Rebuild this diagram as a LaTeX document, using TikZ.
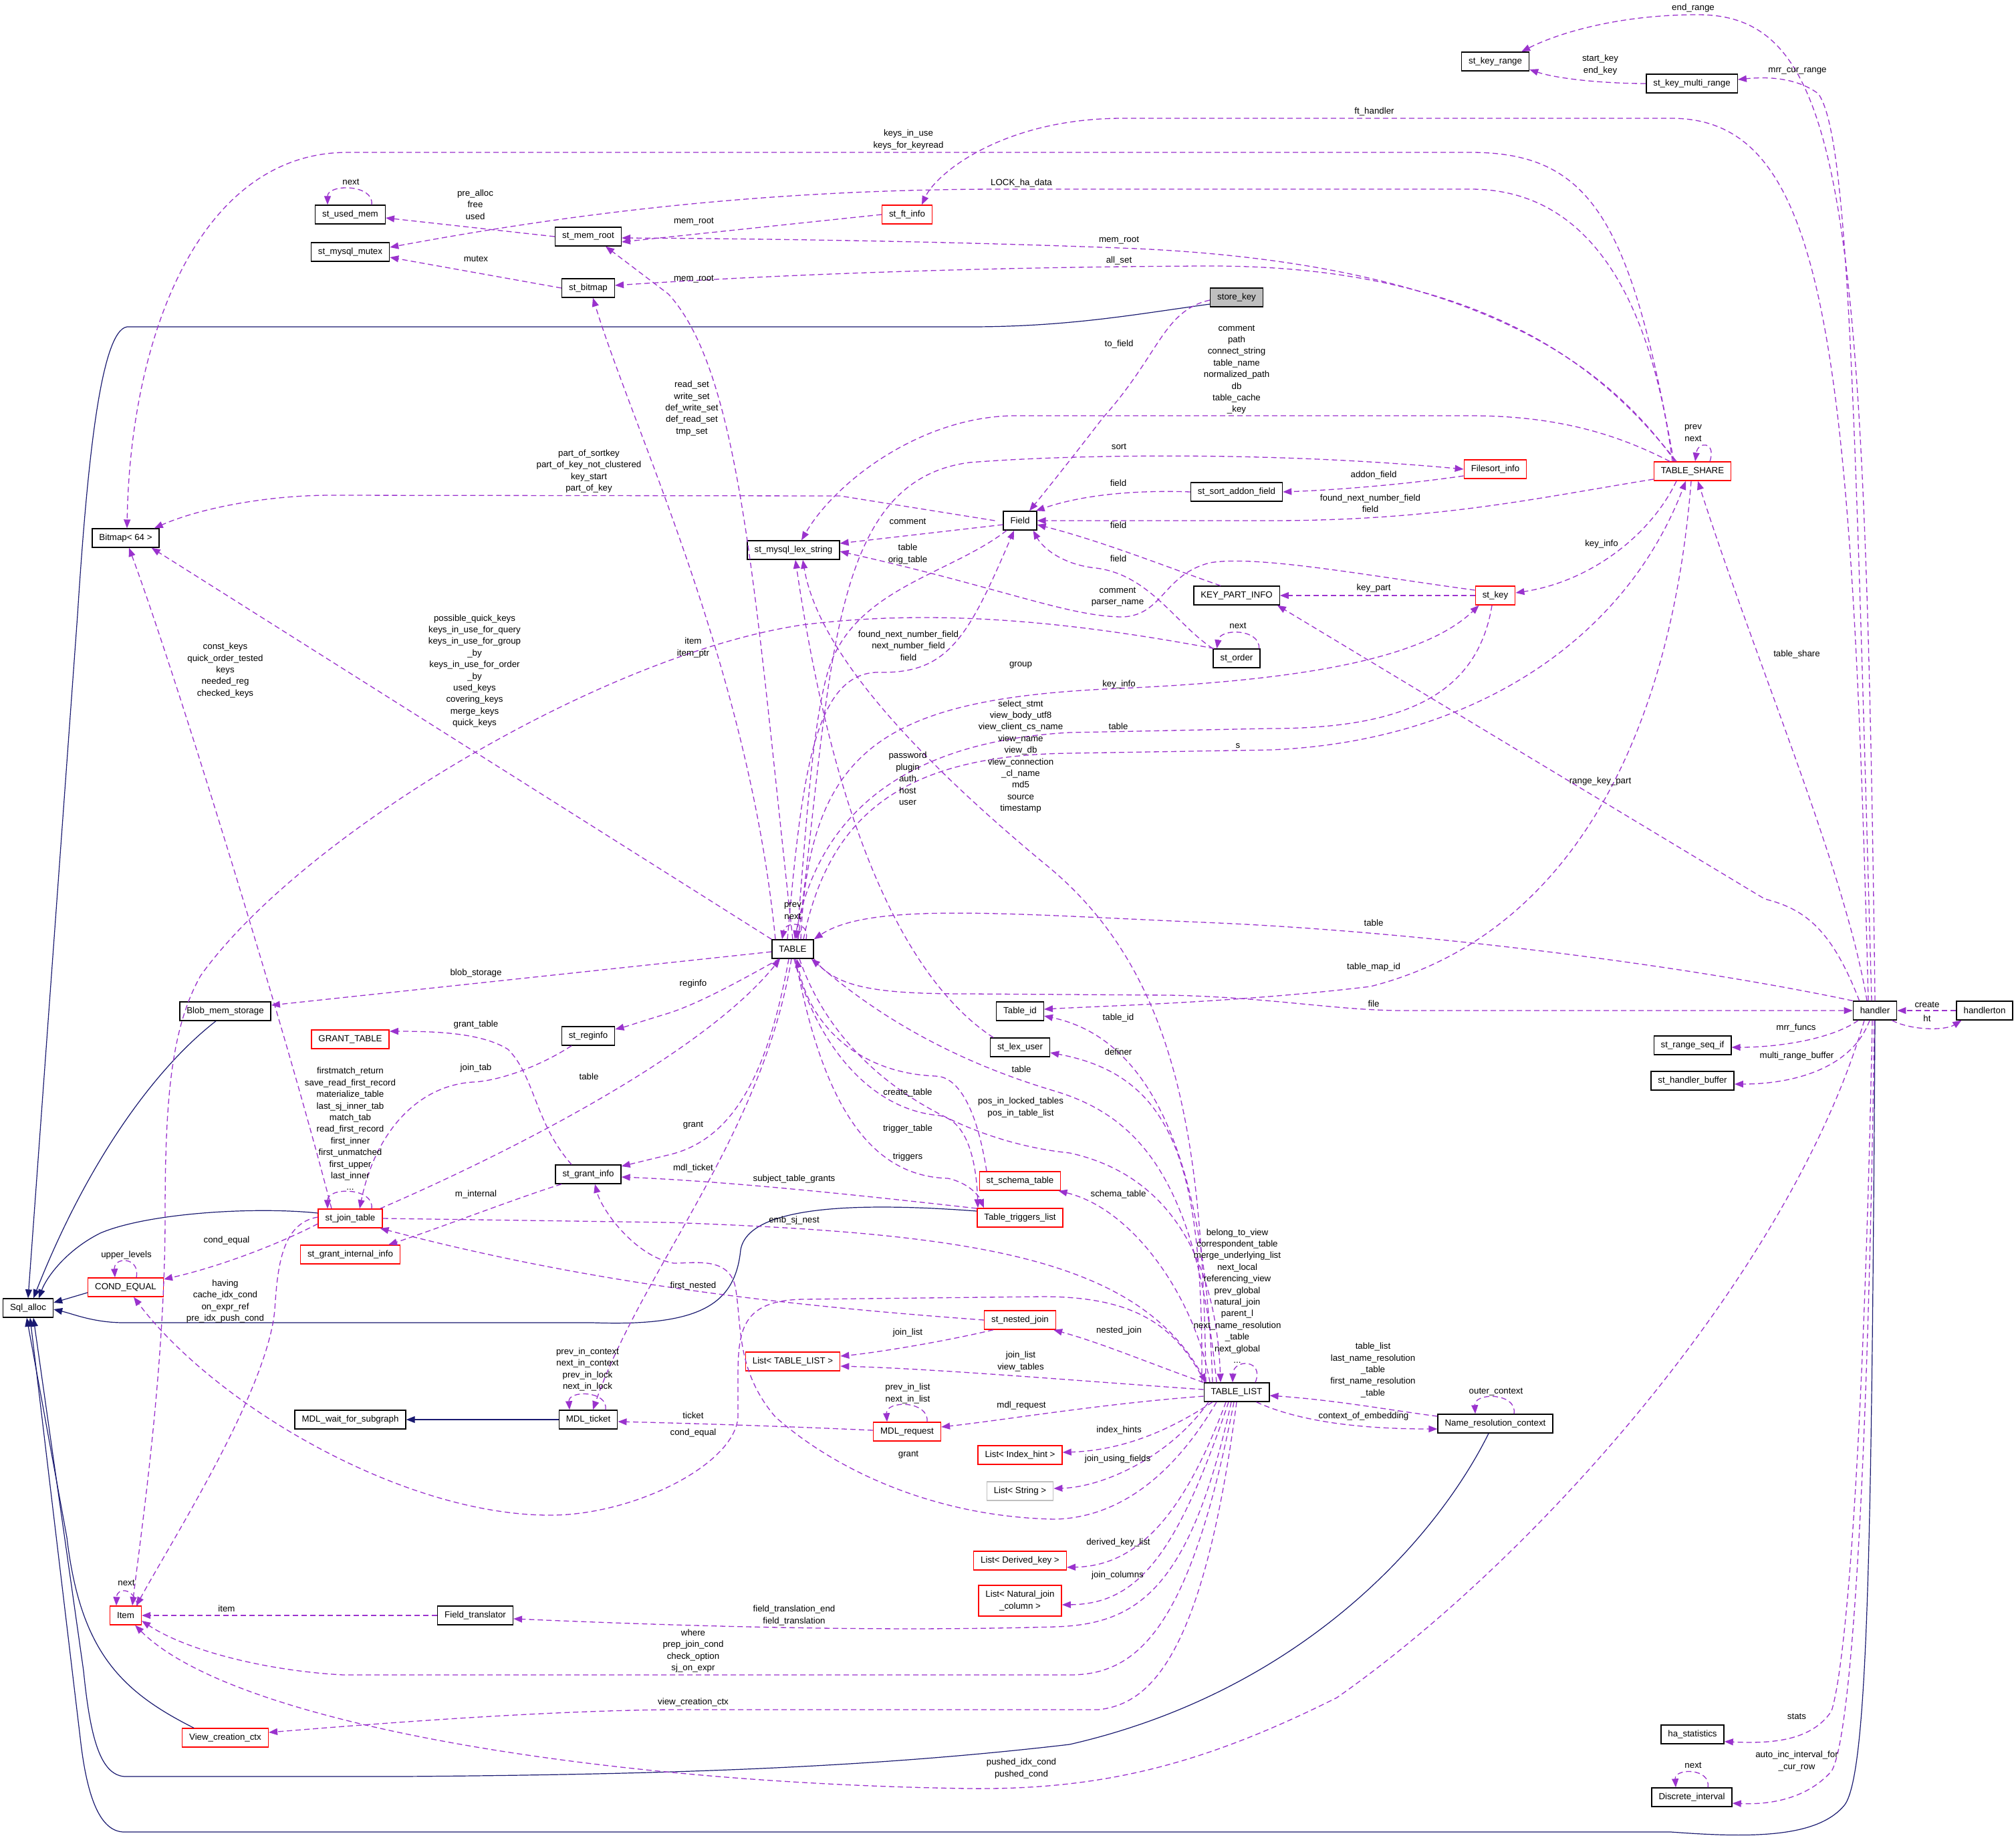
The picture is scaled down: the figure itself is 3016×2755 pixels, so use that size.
\documentclass[tikz,border=0pt]{standalone}
\usepackage{fontspec}
\setmainfont{Liberation Sans}
\usetikzlibrary{arrows.meta}
\definecolor{depc}{RGB}{154,50,205}
\definecolor{inhc}{RGB}{25,25,112}
\definecolor{grayfill}{RGB}{191,191,191}
\newcommand{\dfont}{\fontsize{13.3}{17.4}\selectfont}
\begin{document}
\begin{tikzpicture}[x=1pt,y=-1pt,
  cls/.style={draw=black, line width=1.4pt, fill=white, inner xsep=10.5pt, inner ysep=0pt, minimum height=28pt, font=\dfont, align=center},
  rcls/.style={cls, draw=red},
  dp/.style={draw=depc, line width=1.3pt, dash pattern=on 8pt off 5pt, -{Triangle[length=13pt,width=10pt]}},
  ih/.style={draw=inhc, line width=1.2pt, -{Triangle[length=13pt,width=10pt]}},
  lb/.style={font=\dfont, align=center, inner sep=0pt},
]
\fill[white] (0,0) rectangle (3016,2755);
\useasboundingbox (0,0) rectangle (3016,2755);

% ---------------- classes
\node[cls] (usedmem) at (524,321) {st\_used\_mem};
\node[cls] (mutex) at (524,377) {st\_mysql\_mutex};
\node[cls] (memroot) at (880,354) {st\_mem\_root};
\node[cls] (bitmap) at (880,431) {st\_bitmap};
\node[cls] (bm64) at (188,805) {Bitmap< 64 >};
\node[rcls] (ftinfo) at (1357,321) {st\_ft\_info};
\node[cls, fill=grayfill] (storekey) at (1850,445) {store\_key};
\node[cls] (field) at (1526,779) {Field};
\node[cls] (lexstr) at (1187,823) {st\_mysql\_lex\_string};
\node[cls] (sortaddon) at (1850,736) {st\_sort\_addon\_field};
\node[cls] (keypart) at (1850,891) {KEY\_PART\_INFO};
\node[cls] (keyrange) at (2237,92) {st\_key\_range};
\node[cls] (multirange) at (2531,125) {st\_key\_multi\_range};
\node[rcls] (filesort) at (2237,702) {Filesort\_info};
\node[rcls] (share) at (2532,705) {TABLE\_SHARE};
\node[rcls] (stkey) at (2237,891) {st\_key};
\node[cls] (order) at (1850,985) {st\_order};
\node[cls] (table) at (1186,1420) {TABLE};
\node[cls] (tableid) at (1526,1513) {Table\_id};
\node[cls] (lexuser) at (1526,1567) {st\_lex\_user};
\node[rcls] (schema) at (1526,1767) {st\_schema\_table};
\node[rcls] (triggers) at (1526,1822) {Table\_triggers\_list};
\node[cls] (handler) at (2805,1512) {handler};
\node[cls] (handlerton) at (2969,1512) {handlerton};
\node[cls] (rangeseq) at (2532,1564) {st\_range\_seq\_if};
\node[cls] (hbuffer) at (2532,1617) {st\_handler\_buffer};
\node[cls] (blob) at (337,1513) {Blob\_mem\_storage};
\node[rcls] (granttable) at (524,1555) {GRANT\_TABLE};
\node[cls] (reginfo) at (880,1550) {st\_reginfo};
\node[cls] (grantinfo) at (880,1757) {st\_grant\_info};
\node[rcls] (jointab) at (524,1823) {st\_join\_table};
\node[rcls] (grantint) at (524,1877) {st\_grant\_internal\_info};
\node[rcls] (condeq) at (188,1926) {COND\_EQUAL};
\node[cls] (sqlalloc) at (42,1957) {Sql\_alloc};
\node[cls] (mdlwait) at (524,2124) {MDL\_wait\_for\_subgraph};
\node[cls] (mdlticket) at (880,2124) {MDL\_ticket};
\node[rcls] (item) at (188,2417) {Item};
\node[cls] (fieldtr) at (711,2417) {Field\_translator};
\node[rcls] (viewctx) at (337,2600) {View\_creation\_ctx};
\node[rcls] (nested) at (1526,1975) {st\_nested\_join};
\node[rcls] (listtl) at (1186,2037) {List< TABLE\_LIST >};
\node[rcls] (mdlreq) at (1357,2142) {MDL\_request};
\node[cls] (tablelist) at (1850,2083) {TABLE\_LIST};
\node[rcls] (listih) at (1526,2177) {List< Index\_hint >};
\node[cls, draw=grayfill] (liststr) at (1526,2231) {List< String >};
\node[rcls] (listdk) at (1526,2335) {List< Derived\_key >};
\node[rcls, minimum height=46pt] (listnj) at (1526,2395) {List< Natural\_join\\\_column >};
\node[cls] (nrc) at (2237,2130) {Name\_resolution\_context};
\node[cls] (hastats) at (2532,2595) {ha\_statistics};
\node[cls] (discrete) at (2531,2689) {Discrete\_interval};

% ---------------- inheritance (navy)
\draw[ih] ([yshift=-10pt]storekey.west) .. controls (1700,470) and (1600,489) .. (1450,489) -- (190,489) .. controls (150,495) and (130,700) .. (116,920) -- (sqlalloc.north);
\draw[ih] ([xshift=-14pt]blob.south) .. controls (230,1600) and (130,1740) .. ([xshift=8pt]sqlalloc.north);
\draw[ih] ([yshift=8pt]jointab.west) .. controls (380,1805) and (220,1815) .. (150,1845) .. controls (100,1870) and (70,1910) .. ([xshift=16pt]sqlalloc.north);
\draw[ih] ([yshift=-8pt]condeq.west) -- ([yshift=8pt]sqlalloc.east);
\draw[ih] ([yshift=10pt]triggers.west) .. controls (1300,1800) and (1120,1800) .. (1108,1870) .. controls (1100,1950) and (1050,1985) .. (887,1979) -- (186,1979) .. controls (140,1979) and (110,1966) .. ([yshift=-2pt]sqlalloc.east);
\draw[ih] ([xshift=-47pt]viewctx.north) .. controls (180,2530) and (120,2470) .. (100,2300) -- ([xshift=-2pt]sqlalloc.south);
\draw[ih] ([xshift=-10pt]nrc.south) .. controls (2150,2300) and (1950,2530) .. (1600,2610) .. controls (1300,2645) and (1000,2655) .. (600,2658) -- (186,2658) .. controls (150,2655) and (135,2600) .. (125,2500) -- ([xshift=8pt]sqlalloc.south);
\draw[ih] (handler.south) .. controls (2800,2300) and (2795,2650) .. (2760,2700) .. controls (2720,2750) and (2620,2750) .. (2500,2741) -- (186,2741) .. controls (150,2741) and (130,2690) .. (120,2600) -- ([xshift=3pt]sqlalloc.south);
\draw[ih] (mdlticket.west) -- (mdlwait.east);

% ---------------- dependencies (purple dashed)
\draw[dp] ([xshift=32pt]usedmem.north) .. controls (560,275) and (490,275) .. ([xshift=-34pt]usedmem.north);
\draw[dp] (memroot.west) -- ([yshift=-5pt]usedmem.east);
\draw[dp] ([xshift=-30pt]share.north) .. controls (2470,450) and (2380,283) .. (2200,283) -- (1500,283) .. controls (1100,283) and (800,330) .. ([yshift=7pt]mutex.east);
\draw[dp] ([xshift=-28pt]share.north) .. controls (2440,330) and (2380,228) .. (2200,228) -- (520,228) .. controls (300,228) and (195,500) .. ([xshift=2pt]bm64.north);
\draw[dp] ([xshift=-26pt]share.north) .. controls (2400,540) and (2200,395) .. (1700,372) .. controls (1400,360) and (1100,357) .. ([yshift=-2pt]memroot.east);
\draw[dp] ([xshift=-24pt]share.north) .. controls (2420,580) and (2250,395) .. (1800,398) .. controls (1400,400) and (1100,415) .. ([yshift=4pt]bitmap.east);
\draw[dp] ([xshift=-34pt]share.north) .. controls (2420,650) and (2330,622) .. (2200,622) -- (1520,622) .. controls (1380,622) and (1250,720) .. ([xshift=12pt]lexstr.north);
\draw[dp] ([xshift=26pt]share.north) .. controls (2568,660) and (2540,660) .. ([xshift=4pt]share.north);
\draw[dp] (bitmap.west) -- ([yshift=-8pt]mutex.east);
\draw[dp] (ftinfo.west) -- ([yshift=-8pt]memroot.east);
\draw[dp] (table.north) .. controls (1130,900) and (1110,560) .. (1000,440) -- ([xshift=26pt]memroot.south);
\draw[dp] ([xshift=-26pt]table.north) .. controls (1120,1000) and (950,650) .. ([xshift=7pt]bitmap.south);
\draw[dp] ([xshift=-12pt]field.west) -- (1257,742) -- (495,741) .. controls (400,741) and (300,760) .. ([xshift=-8pt]bm64.north east);
\draw[dp] (table.north west) -- ([xshift=-12pt]bm64.south east);
\draw[dp] ([xshift=-28pt]jointab.north) .. controls (430,1550) and (260,1000) .. ([xshift=5pt]bm64.south);
\draw[dp] ([xshift=-10pt]handler.north) .. controls (2770,500) and (2730,177) .. (2500,177) -- (1680,177) .. controls (1500,177) and (1400,260) .. ([xshift=22pt]ftinfo.north);
\draw[dp] (handler.north) .. controls (2790,300) and (2760,22) .. (2540,22) .. controls (2420,22) and (2330,50) .. ([xshift=-12pt]keyrange.north east);
\draw[dp] ([xshift=-5pt]handler.north) .. controls (2775,600) and (2765,200) .. (2720,140) .. controls (2690,118) and (2650,114) .. ([yshift=6pt]multirange.east);
\draw[dp] (multirange.west) .. controls (2400,125) and (2330,118) .. ([yshift=-12pt]keyrange.east);
\draw[dp] ([yshift=-4pt]storekey.west) .. controls (1740,465) and (1735,530) .. (1650,625) .. controls (1600,690) and (1560,740) .. ([xshift=14pt]field.north);
\draw[dp] ([xshift=8pt]table.north) .. controls (1245,1000) and (1240,720) .. (1450,692) .. controls (1600,680) and (1900,675) .. (filesort.west);
\draw[dp] ([yshift=-10pt]filesort.west) .. controls (2100,725) and (2000,733) .. (sortaddon.east);
\draw[dp] (sortaddon.west) .. controls (1700,733) and (1620,740) .. ([xshift=-2pt]field.north east);
\draw[dp] ([yshift=-12pt]share.west) .. controls (2300,745) and (2150,779) .. (1900,779) -- (field.east);
\draw[dp] ([yshift=-6pt]field.west) -- ([yshift=10pt]lexstr.east);
\draw[dp] ([yshift=8pt]stkey.west) .. controls (2050,862) and (1880,830) .. (1810,842) .. controls (1740,860) and (1740,920) .. (1680,923) .. controls (1600,923) and (1500,880) .. ([yshift=-2pt]lexstr.east);
\draw[dp] ([xshift=-20pt]field.south) .. controls (1420,860) and (1280,880) .. (1240,1000) .. controls (1215,1080) and (1205,1250) .. ([xshift=6pt]table.north);
\draw[dp] ([xshift=-24pt]keypart.north) .. controls (1750,850) and (1650,810) .. ([yshift=-6pt]field.east);
\draw[dp] (order.north west) .. controls (1760,935) and (1720,860) .. (1640,850) .. controls (1590,845) and (1560,820) .. ([xshift=-6pt]field.south east);
\draw[dp] (stkey.west) -- (keypart.east);
\draw[dp] ([xshift=10pt]handler.north west) .. controls (2740,1390) and (2700,1360) .. (2640,1345) -- ([xshift=-4pt]keypart.south east);
\draw[dp] ([xshift=-2pt]order.north east) .. controls (1885,940) and (1825,940) .. ([xshift=6pt]order.north west);
\draw[dp] ([xshift=-8pt]table.north) .. controls (1200,1150) and (1220,1000) .. (1321,1006) .. controls (1420,1006) and (1450,950) .. ([xshift=-9pt]field.south);
\draw[dp] ([xshift=2pt]order.north west) .. controls (1600,930) and (1400,910) .. (1200,935) .. controls (900,980) and (450,1250) .. (300,1460) .. controls (255,1540) and (247,1650) .. (247,1820) .. controls (247,2050) and (210,2300) .. ([xshift=10pt]item.north);
\draw[dp] ([xshift=12pt]table.north) .. controls (1210,1120) and (1320,1045) .. (1674,1030) .. controls (1950,1018) and (2130,985) .. ([xshift=6pt]stkey.south west);
\draw[dp] ([xshift=-24pt]share.south) .. controls (2470,800) and (2380,870) .. ([yshift=4pt]stkey.east);
\draw[dp] ([xshift=-5pt]stkey.south) .. controls (2210,1040) and (2100,1090) .. (1900,1090) -- (1600,1096) .. controls (1350,1110) and (1225,1220) .. ([xshift=3pt]table.north);
\draw[dp] ([xshift=16pt]table.north) .. controls (1240,1220) and (1350,1130) .. (1600,1127) -- (1900,1122) .. controls (2200,1110) and (2430,960) .. ([xshift=-10pt]share.south);
\draw[dp] ([xshift=-12pt]handler.north) .. controls (2760,1300) and (2630,1000) .. ([xshift=8pt]share.south);
\draw[dp] (handler.north west) .. controls (2500,1440) and (2100,1392) .. (1800,1380) .. controls (1500,1367) and (1300,1350) .. (table.north east);
\draw[dp] (table.south east) .. controls (1250,1480) and (1320,1487) .. (1450,1487) -- (1750,1489) .. controls (1900,1492) and (2000,1512) .. (2100,1512) -- (handler.west);
\draw[dp] ([xshift=-2pt]share.south) .. controls (2500,1100) and (2350,1400) .. (2050,1476) .. controls (1850,1500) and (1650,1505) .. ([yshift=3pt]tableid.east);
\draw[dp] ([xshift=20pt]table.north) .. controls (1212,1378) and (1175,1378) .. ([xshift=-16pt]table.north);
\draw[dp] (handlerton.west) -- (handler.east);
\draw[dp] ([xshift=-8pt]handler.south east) .. controls (2860,1542) and (2910,1542) .. ([xshift=8pt]handlerton.south west);
\draw[dp] ([xshift=-25pt]handler.south) .. controls (2740,1555) and (2660,1567) .. ([yshift=-3pt]rangeseq.east);
\draw[dp] ([xshift=-8pt]handler.south) .. controls (2770,1600) and (2680,1622) .. ([yshift=-5pt]hbuffer.east);
\draw[dp] ([xshift=-16pt]handler.south) .. controls (2680,1900) and (2300,2330) .. (2000,2540) .. controls (1800,2640) and (1650,2678) .. (1450,2676) .. controls (900,2668) and (350,2580) .. ([xshift=-10pt]item.south east);
\draw[dp] ([xshift=-4pt]handler.south) .. controls (2790,2100) and (2765,2480) .. (2740,2560) .. controls (2710,2605) and (2650,2609) .. ([yshift=4pt]hastats.south east);
\draw[dp] ([xshift=-1pt]handler.south) .. controls (2795,2200) and (2770,2600) .. (2740,2650) .. controls (2700,2695) and (2640,2700) .. ([yshift=-9pt]discrete.east);
\draw[dp] ([xshift=24pt]discrete.north) .. controls (2560,2645) and (2505,2645) .. ([xshift=-24pt]discrete.north);
\draw[dp] ([yshift=-4pt]table.west) -- ([yshift=9pt]blob.east);
\draw[dp] ([xshift=-20pt]table.south) .. controls (1120,1460) and (1050,1500) .. (1000,1516) .. controls (960,1528) and (940,1535) .. ([yshift=10pt]reginfo.east);
\draw[dp] ([xshift=-25pt]reginfo.south) .. controls (800,1600) and (740,1618) .. (707,1619) .. controls (620,1625) and (560,1700) .. ([xshift=14pt]jointab.north);
\draw[dp] ([xshift=-25pt]grantinfo.north) .. controls (800,1680) and (800,1610) .. (760,1570) .. controls (720,1545) and (650,1543) .. ([yshift=12pt]granttable.east);
\draw[dp] ([xshift=-4pt]jointab.north east) .. controls (750,1730) and (1050,1580) .. ([xshift=-19pt]table.south);
\draw[dp] ([xshift=32pt]jointab.north) .. controls (560,1776) and (490,1776) .. ([xshift=-34pt]jointab.north);
\draw[dp] ([xshift=-6pt]table.south) .. controls (1150,1600) and (1100,1705) .. (1000,1728) -- ([yshift=12pt]grantinfo.east);
\draw[dp] ([xshift=-40pt]grantinfo.south) .. controls (780,1790) and (650,1840) .. ([xshift=-18pt]grantint.north east);
\draw[dp] ([yshift=-8pt]jointab.west) .. controls (420,1860) and (330,1895) .. ([yshift=12pt]condeq.east);
\draw[dp] ([xshift=16pt]condeq.north) .. controls (210,1880) and (170,1880) .. ([xshift=-16pt]condeq.north);
\draw[dp] ([yshift=2pt]jointab.west) .. controls (420,1830) and (415,1900) .. (411,1960) .. controls (400,2080) and (260,2300) .. ([xshift=16pt]item.north);
\draw[dp] ([xshift=-2pt]table.south) .. controls (1140,1700) and (960,1900) .. ([xshift=7pt]mdlticket.north);
\draw[dp] ([xshift=26pt]mdlticket.north) .. controls (910,2080) and (850,2080) .. ([xshift=-28pt]mdlticket.north);
\draw[dp] ([yshift=2pt]mdlreq.west) .. controls (1200,2135) and (1050,2130) .. ([yshift=-3pt]mdlticket.east);
\draw[dp] ([xshift=30pt]mdlreq.north) .. controls (1390,2095) and (1325,2095) .. ([xshift=-30pt]mdlreq.north);
\draw[dp] ([yshift=-6pt]tablelist.west) .. controls (1650,2100) and (1500,2125) .. ([yshift=7pt]mdlreq.east);
\draw[dp] ([yshift=14pt]triggers.west) .. controls (1300,1790) and (1100,1768) .. ([yshift=-4pt]grantinfo.east);
\draw[dp] ([xshift=-50pt]schema.north) .. controls (1460,1650) and (1430,1610) .. (1399,1610) .. controls (1280,1605) and (1210,1530) .. ([xshift=6pt]table.south);
\draw[dp] ([xshift=2pt]table.south) .. controls (1220,1560) and (1300,1660) .. (1405,1669) .. controls (1440,1675) and (1460,1720) .. ([xshift=-63pt]triggers.north);
\draw[dp] ([xshift=4pt]table.south) .. controls (1230,1650) and (1300,1760) .. (1418,1763) .. controls (1450,1770) and (1465,1790) .. ([xshift=-54pt]triggers.north);
\draw[dp] ([xshift=-40pt]tablelist.north) .. controls (1790,1950) and (1700,1810) .. ([xshift=-4pt]schema.south east);
\draw[dp] ([xshift=-46pt]tablelist.north) .. controls (1800,1700) and (1760,1450) .. (1560,1290) .. controls (1380,1140) and (1225,980) .. ([xshift=14pt]lexstr.south);
\draw[dp] ([xshift=-40pt]lexuser.north) .. controls (1360,1470) and (1250,1250) .. ([xshift=3pt]lexstr.south);
\draw[dp] ([xshift=-52pt]tablelist.north) .. controls (1800,1750) and (1760,1610) .. ([yshift=-8pt]lexuser.east);
\draw[dp] ([xshift=-36pt]tablelist.north) .. controls (1805,1800) and (1750,1560) .. ([yshift=-7pt]tableid.east);
\draw[dp] ([xshift=-30pt]tablelist.north) .. controls (1790,1760) and (1700,1670) .. (1580,1633) .. controls (1400,1580) and (1290,1500) .. ([xshift=-4pt]table.south east);
\draw[dp] ([xshift=10pt]table.south) .. controls (1260,1620) and (1450,1710) .. (1600,1725) .. controls (1760,1760) and (1820,1900) .. ([xshift=-24pt]tablelist.north);
\draw[dp] ([xshift=28pt]tablelist.north) .. controls (1892,2033) and (1845,2033) .. ([xshift=-6pt]tablelist.north);
\draw[dp] (tablelist.north west) .. controls (1720,2040) and (1650,2010) .. ([xshift=-4pt]nested.south east);
\draw[dp] ([xshift=-40pt]nested.south) .. controls (1400,2010) and (1300,2025) .. ([yshift=8pt]listtl.east);
\draw[dp] ([yshift=4pt]tablelist.west) .. controls (1600,2065) and (1400,2048) .. ([yshift=-7pt]listtl.east);
\draw[dp] (nested.west) .. controls (1200,1955) and (900,1925) .. ([xshift=-4pt]jointab.south east);
\draw[dp] (jointab.east) -- (1000,1829) .. controls (1450,1845) and (1700,1880) .. ([xshift=4pt]tablelist.north west);
\draw[dp] ([xshift=2pt]tablelist.north west) .. controls (1760,1985) and (1700,1940) .. (1560,1940) -- (1200,1944) .. controls (1110,1946) and (1104,1990) .. (1104,2060) -- (1104,2120) .. controls (1100,2190) and (950,2267) .. (823,2267) .. controls (600,2267) and (320,2100) .. ([xshift=12pt]condeq.south);
\draw[dp] ([xshift=-30pt]tablelist.south) .. controls (1760,2200) and (1680,2270) .. (1579,2273) .. controls (1400,2270) and (1250,2200) .. (1160,2120) .. controls (1100,2050) and (1110,1980) .. (1100,1925) .. controls (1090,1880) and (1040,1890) .. (1008,1890) .. controls (950,1880) and (900,1810) .. ([xshift=10pt]grantinfo.south);
\draw[dp] ([xshift=-36pt]tablelist.south) .. controls (1750,2140) and (1680,2170) .. ([yshift=4pt]listih.east);
\draw[dp] ([xshift=-42pt]tablelist.south) .. controls (1750,2180) and (1650,2225) .. ([yshift=4pt]liststr.east);
\draw[dp] ([xshift=-16pt]tablelist.south) .. controls (1770,2270) and (1700,2343) .. ([yshift=-10pt]listdk.east);
\draw[dp] ([xshift=-12pt]tablelist.south) .. controls (1760,2330) and (1700,2400) .. ([yshift=-6pt]listnj.east);
\draw[dp] ([xshift=-8pt]tablelist.south) .. controls (1780,2380) and (1700,2430) .. (1579,2434) .. controls (1300,2442) and (1000,2432) .. ([yshift=-5pt]fieldtr.east);
\draw[dp] ([xshift=-4pt]tablelist.south) .. controls (1780,2440) and (1700,2506) .. (1600,2506) -- (514,2506) .. controls (400,2500) and (280,2470) .. ([yshift=-8pt]item.east);
\draw[dp] (tablelist.south) .. controls (1800,2480) and (1720,2550) .. (1643,2558) -- (1000,2558) .. controls (800,2560) and (550,2580) .. ([yshift=8pt]viewctx.east);
\draw[dp] ([xshift=-20pt]tablelist.south east) .. controls (1950,2130) and (2050,2138) .. ([yshift=-8pt]nrc.west);
\draw[dp] ([yshift=11pt]nrc.west) .. controls (2080,2110) and (2000,2095) .. ([yshift=-5pt]tablelist.east);
\draw[dp] ([xshift=28pt]nrc.north) .. controls (2270,2083) and (2205,2083) .. ([xshift=-30pt]nrc.north);
\draw[dp] (fieldtr.west) -- (item.east);
\draw[dp] ([xshift=18pt]item.north) .. controls (200,2375) and (175,2375) .. ([xshift=-14pt]item.north);

% ---------------- labels
\node[lb] (t1) at (525,272) {next};
\node[lb] (t2) at (711,306) {pre\_alloc\\free\\used};
\node[lb] (t3) at (712,387) {mutex};
\node[lb] (t4) at (1038,332) {mem\_root};
\node[lb] (t5) at (1674,360) {mem\_root};
\node[lb] (t6) at (1038,418) {mem\_root};
\node[lb] (t7) at (1674,390) {all\_set};
\node[lb] (t8) at (1035,611) {read\_set\\write\_set\\def\_write\_set\\def\_read\_set\\tmp\_set};
\node[lb] (t9) at (1359,209) {keys\_in\_use\\keys\_for\_keyread};
\node[lb] (t10) at (1528,274) {LOCK\_ha\_data};
\node[lb] (t11) at (881,705) {part\_of\_sortkey\\part\_of\_key\_not\_clustered\\key\_start\\part\_of\_key};
\node[lb] (t12) at (710,1004) {possible\_quick\_keys\\keys\_in\_use\_for\_query\\keys\_in\_use\_for\_group\\\_by\\keys\_in\_use\_for\_order\\\_by\\used\_keys\\covering\_keys\\merge\_keys\\quick\_keys};
\node[lb] (t13) at (337,1003) {const\_keys\\quick\_order\_tested\\keys\\needed\_reg\\checked\_keys};
\node[lb] (t14) at (2056,167) {ft\_handler};
\node[lb] (t15) at (2533,12) {end\_range};
\node[lb] (t16) at (2394,97) {start\_key\\end\_key};
\node[lb] (t17) at (2689,106) {mrr\_cur\_range};
\node[lb] (t18) at (2533,648) {prev\\next};
\node[lb] (t19) at (1674,515) {to\_field};
\node[lb] (t20) at (1850,553) {comment\\path\\connect\_string\\table\_name\\normalized\_path\\db\\table\_cache\\\_key};
\node[lb] (t21) at (1674,668) {sort};
\node[lb] (t22) at (2055,711) {addon\_field};
\node[lb] (t23) at (1673,723) {field};
\node[lb] (t24) at (2050,753) {found\_next\_number\_field\\field};
\node[lb] (t25) at (1358,780) {comment};
\node[lb] (t26) at (1673,786) {field};
\node[lb] (t27) at (1358,829) {table\\orig\_table};
\node[lb] (t28) at (1673,836) {field};
\node[lb] (t29) at (1672,893) {comment\\parser\_name};
\node[lb] (t30) at (2055,880) {key\_part};
\node[lb] (t31) at (2396,814) {key\_info};
\node[lb] (t32) at (1852,936) {next};
\node[lb] (t33) at (1037,969) {item\\item\_ptr};
\node[lb] (t34) at (1359,966) {found\_next\_number\_field\\next\_number\_field\\field};
\node[lb] (t35) at (1527,995) {group};
\node[lb] (t36) at (1674,1024) {key\_info};
\node[lb] (t37) at (1527,1132) {select\_stmt\\view\_body\_utf8\\view\_client\_cs\_name\\view\_name\\view\_db\\view\_connection\\\_cl\_name\\md5\\source\\timestamp};
\node[lb] (t38) at (1673,1087) {table};
\node[lb] (t39) at (1852,1116) {s};
\node[lb] (t40) at (1358,1165) {password\\plugin\\auth\\host\\user};
\node[lb] (t41) at (1186,1363) {prev\\next};
\node[lb] (t42) at (1037,1472) {reginfo};
\node[lb] (t43) at (1673,1523) {table\_id};
\node[lb] (t44) at (1673,1574) {definer};
\node[lb] (t45) at (1528,1600) {table};
\node[lb] (t46) at (1358,1635) {create\_table};
\node[lb] (t47) at (1527,1657) {pos\_in\_locked\_tables\\pos\_in\_table\_list};
\node[lb] (t48) at (1358,1689) {trigger\_table};
\node[lb] (t49) at (1358,1731) {triggers};
\node[lb] (t50) at (1037,1684) {grant};
\node[lb] (t51) at (1037,1748) {mdl\_ticket};
\node[lb] (t52) at (1188,1764) {subject\_table\_grants};
\node[lb] (t53) at (1673,1787) {schema\_table};
\node[lb] (t54) at (2688,979) {table\_share};
\node[lb] (t55) at (2394,1169) {range\_key\_part};
\node[lb] (t56) at (2055,1381) {table};
\node[lb] (t57) at (2055,1447) {table\_map\_id};
\node[lb] (t58) at (2055,1502) {file};
\node[lb] (t59) at (2883,1503) {create};
\node[lb] (t60) at (2883,1524) {ht};
\node[lb] (t61) at (2687,1538) {mrr\_funcs};
\node[lb] (t62) at (2688,1580) {multi\_range\_buffer};
\node[lb] (t63) at (712,1456) {blob\_storage};
\node[lb] (t64) at (712,1533) {grant\_table};
\node[lb] (t65) at (712,1598) {join\_tab};
\node[lb] (t66) at (881,1611) {table};
\node[lb] (t67) at (524,1689) {firstmatch\_return\\save\_read\_first\_record\\materialize\_table\\last\_sj\_inner\_tab\\match\_tab\\read\_first\_record\\first\_inner\\first\_unmatched\\first\_upper\\last\_inner\\...};
\node[lb] (t68) at (712,1787) {m\_internal};
\node[lb] (t69) at (339,1856) {cond\_equal};
\node[lb] (t70) at (189,1878) {upper\_levels};
\node[lb] (t71) at (337,1947) {having\\cache\_idx\_cond\\on\_expr\_ref\\pre\_idx\_push\_cond};
\node[lb] (t72) at (879,2049) {prev\_in\_context\\next\_in\_context\\prev\_in\_lock\\next\_in\_lock};
\node[lb] (t73) at (189,2368) {next};
\node[lb] (t74) at (339,2407) {item};
\node[lb] (t75) at (1188,1826) {emb\_sj\_nest};
\node[lb] (t76) at (1037,1924) {first\_nested};
\node[lb] (t77) at (1674,1991) {nested\_join};
\node[lb] (t78) at (1358,1994) {join\_list};
\node[lb] (t79) at (1527,2037) {join\_list\\view\_tables};
\node[lb] (t80) at (1358,2085) {prev\_in\_list\\next\_in\_list};
\node[lb] (t81) at (1037,2118) {ticket};
\node[lb] (t82) at (1037,2144) {cond\_equal};
\node[lb] (t83) at (1528,2103) {mdl\_request};
\node[lb] (t84) at (1674,2140) {index\_hints};
\node[lb] (t85) at (1359,2177) {grant};
\node[lb] (t86) at (1672,2183) {join\_using\_fields};
\node[lb] (t87) at (1673,2308) {derived\_key\_list};
\node[lb] (t88) at (1672,2357) {join\_columns};
\node[lb] (t89) at (1188,2417) {field\_translation\_end\\field\_translation};
\node[lb] (t90) at (1037,2470) {where\\prep\_join\_cond\\check\_option\\sj\_on\_expr};
\node[lb] (t91) at (1037,2547) {view\_creation\_ctx};
\node[lb] (t92) at (1528,2646) {pushed\_idx\_cond\\pushed\_cond};
\node[lb] (t93) at (1851,1939) {belong\_to\_view\\correspondent\_table\\merge\_underlying\_list\\next\_local\\referencing\_view\\prev\_global\\natural\_join\\parent\_l\\next\_name\_resolution\\\_table\\next\_global\\...};
\node[lb] (t94) at (2054,2050) {table\_list\\last\_name\_resolution\\\_table\\first\_name\_resolution\\\_table};
\node[lb] (t95) at (2040,2119) {context\_of\_embedding};
\node[lb] (t96) at (2238,2082) {outer\_context};
\node[lb] (t97) at (2688,2568) {stats};
\node[lb] (t98) at (2688,2635) {auto\_inc\_interval\_for\\\_cur\_row};
\node[lb] (t99) at (2533,2641) {next};
\end{tikzpicture}
\end{document}
